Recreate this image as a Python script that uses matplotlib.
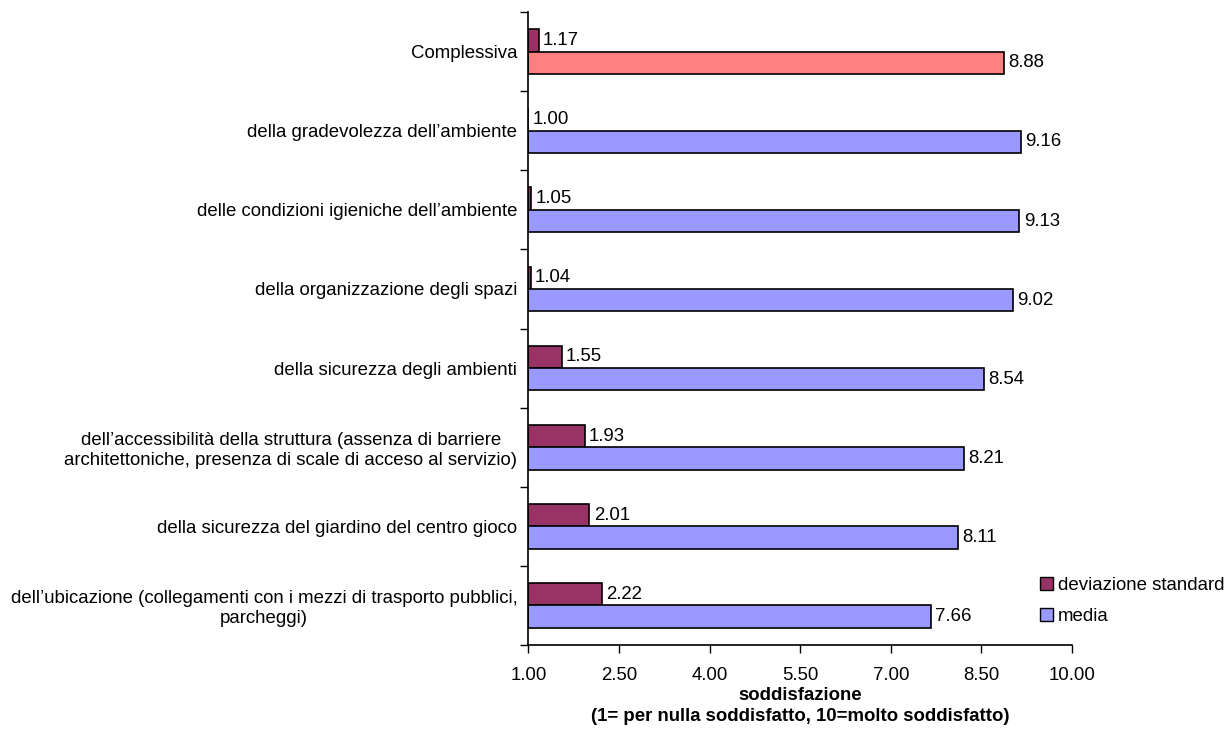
import numpy as np
import matplotlib.pyplot as plt
from matplotlib.patches import Patch

plt.rcParams['font.family'] = ['Liberation Sans', 'DejaVu Sans']

categories = [
    "Complessiva",
    "della gradevolezza dell\u2019ambiente",
    "delle condizioni igieniche dell\u2019ambiente",
    "della organizzazione degli spazi",
    "della sicurezza degli ambienti",
    "dell\u2019accessibilit\u00e0 della struttura (assenza di barriere\narchitettoniche, presenza di scale di acceso al servizio)",
    "della sicurezza del giardino del centro gioco",
    "dell\u2019ubicazione (collegamenti con i mezzi di trasporto pubblici,\nparcheggi)",
]
dev_std = [1.17, 1.00, 1.05, 1.04, 1.55, 1.93, 2.01, 2.22]
media = [8.88, 9.16, 9.13, 9.02, 8.54, 8.21, 8.11, 7.66]
xticks = [1.0, 2.5, 4.0, 5.5, 7.0, 8.5, 10.0]

c_dev = '#993366'
c_media = '#9999FF'
c_tot = '#FF8080'
fs = 13.4

fig = plt.figure(figsize=(12.31, 7.31), dpi=100)
ax = fig.add_axes([0.4293, 0.1176, 0.4415, 0.866])

n = len(categories)
y = np.arange(n)  # 0 at top after inversion
h = 0.283
base = 1.0

mcolors = [c_tot] + [c_media] * (n - 1)
ax.barh(y - h / 2, np.array(dev_std) - base, left=base, height=h,
        color=c_dev, edgecolor='black', linewidth=1.2)
ax.barh(y + h / 2, np.array(media) - base, left=base, height=h,
        color=mcolors, edgecolor='black', linewidth=1.2)

for i in range(n):
    ax.text(dev_std[i] + 0.07, y[i] - h / 2, f"{dev_std[i]:.2f}",
            va='center', ha='left', fontsize=fs)
    ax.text(media[i] + 0.07, y[i] + h / 2, f"{media[i]:.2f}",
            va='center', ha='left', fontsize=fs)

ax.set_xlim(1, 10)
ax.set_ylim(n - 0.5, -0.5)
ax.set_xticks(xticks)
ax.set_xticklabels([f"{v:.2f}" for v in xticks], fontsize=fs)
ax.tick_params(axis='x', direction='out', length=6, width=1, pad=10)

ax.set_yticks(np.arange(n + 1) - 0.5)
ax.set_yticklabels([])
ax.tick_params(axis='y', which='major', direction='out', length=6, width=1)
ax.set_yticks(y, minor=True)
ax.set_yticklabels(categories, minor=True, fontsize=fs, multialignment='center')
ax.tick_params(axis='y', which='minor', length=0, pad=8)

for s in ['top', 'right']:
    ax.spines[s].set_visible(False)
for s in ['left', 'bottom']:
    ax.spines[s].set_linewidth(1.2)

ax.set_xlabel("soddisfazione\n(1= per nulla soddisfatto, 10=molto soddisfatto)",
              fontsize=fs, fontweight='bold', labelpad=2, linespacing=1.3)

handles = [Patch(facecolor=c_dev, edgecolor='black', label='deviazione standard'),
           Patch(facecolor=c_media, edgecolor='black', label='media')]
fig.legend(handles=handles, loc='upper left', bbox_to_anchor=(0.845, 0.211),
           frameon=False, fontsize=fs, handlelength=0.7, handleheight=0.7,
           handletextpad=0.25, labelspacing=0.75, borderpad=0, borderaxespad=0)

fig.savefig('out.png', dpi=100)
